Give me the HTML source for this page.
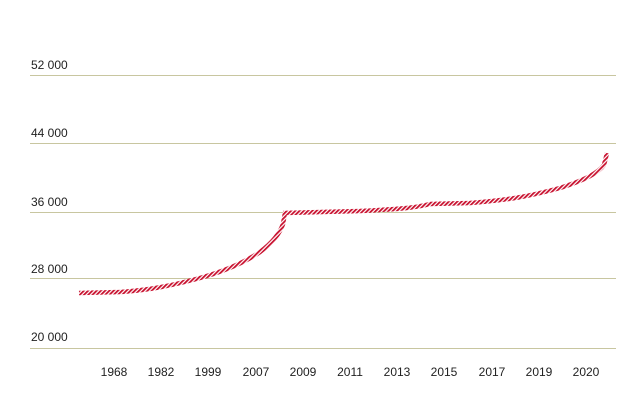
<!DOCTYPE html>
<html><head><meta charset="utf-8"><style>
html,body{margin:0;padding:0;background:#fff;}
svg{display:block;font-family:"Liberation Sans",sans-serif;}
</style></head><body>
<svg width="640" height="414" viewBox="0 0 640 414">
<defs>
<pattern id="h" patternUnits="userSpaceOnUse" width="3" height="3" patternTransform="rotate(45)">
<rect width="3" height="3" fill="#fff"/>
<rect width="1.8" height="3" fill="#c8102e"/>
</pattern>
</defs>
<g stroke="#c8c6a0" stroke-width="1">
<line x1="30" y1="75.5" x2="616" y2="75.5"/>
<line x1="30" y1="143.5" x2="616" y2="143.5"/>
<line x1="30" y1="212.5" x2="616" y2="212.5"/>
<line x1="30" y1="278.5" x2="616" y2="278.5"/>
<line x1="30" y1="348.5" x2="616" y2="348.5"/>
</g>
<g font-size="12" fill="#222">
<text x="31" y="69">52 000</text>
<text x="31" y="137">44 000</text>
<text x="31" y="206">36 000</text>
<text x="31" y="273">28 000</text>
<text x="31" y="341">20 000</text>
</g>
<g font-size="12" fill="#222" text-anchor="middle">
<text x="114" y="376">1968</text><text x="161" y="376">1982</text><text x="208" y="376">1999</text>
<text x="256" y="376">2007</text><text x="303" y="376">2009</text><text x="350" y="376">2011</text>
<text x="397" y="376">2013</text><text x="444" y="376">2015</text><text x="492" y="376">2017</text>
<text x="539" y="376">2019</text><text x="586" y="376">2020</text>
</g>
<path d="M79,293 L120,292 C150,290 170,286 200,278 C225,271 245,262 260,252 C272,243 280,233 283,224 L285,213 L360,211 C400,209 415,208 430,204 L470,203 C510,200 530,196 560,188 C585,180 598,173 604,165 L607,153" fill="none" stroke="url(#h)" stroke-width="4.5"/>
</svg>
</body></html>
